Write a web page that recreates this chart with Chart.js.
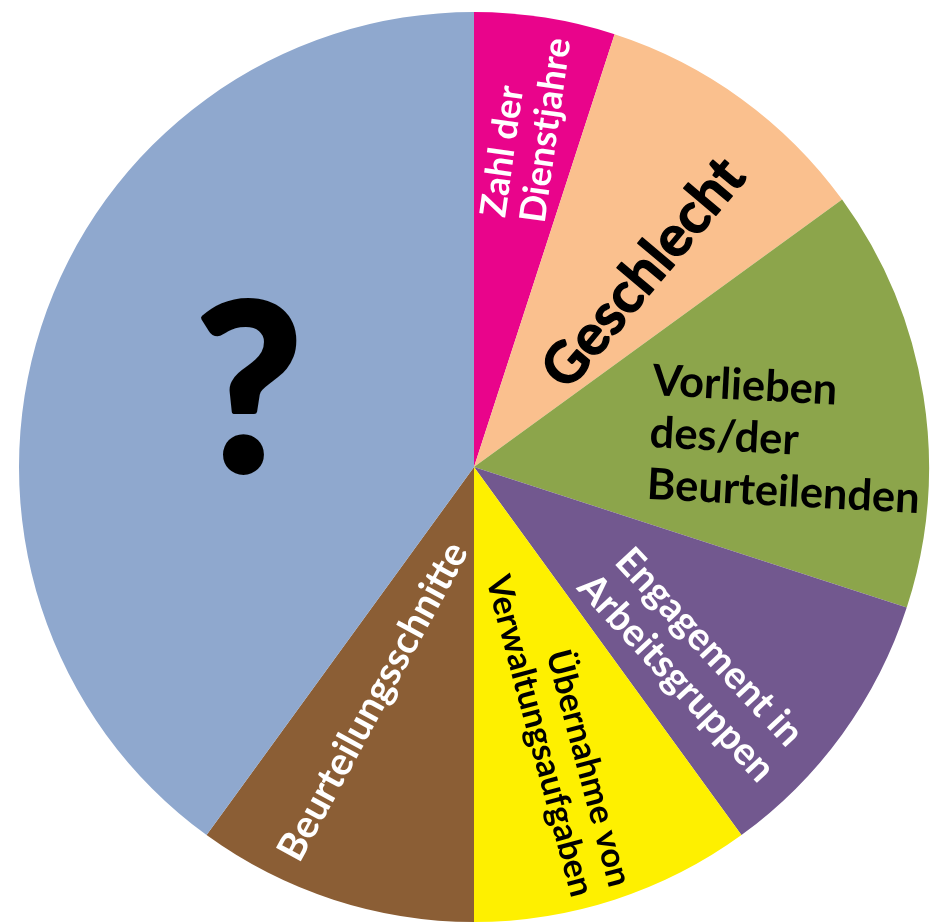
<!DOCTYPE html>
<html>
<head>
<meta charset="utf-8">
<script src="https://cdn.jsdelivr.net/npm/chart.js@4"></script>
<style>
  body { margin: 0; background: #fff; }
  .wrap { width: 932px; height: 922px; }
</style>
</head>
<body>
<div class="wrap"><canvas id="pie"></canvas></div>
<script>
// categories (each entry = lines of the slice label)
const categories = [
  ['Zahl der', 'Dienstjahre'],
  ['Geschlecht'],
  ['Vorlieben', 'des/der', 'Beurteilenden'],
  ['Engagement in', 'Arbeitsgruppen'],
  ['Übernahme von', 'Verwaltungsaufgaben'],
  ['Beurteilungsschnitte'],
  ['?']
];
const shares = [5, 10, 15, 10, 10, 10, 40];
const sliceColors = ['#E9048B', '#FAC08E', '#8CA54B', '#72588F', '#FEF000', '#8B5E35', '#8FA8CE'];

// where and how each label sits (angle clockwise from 12 o'clock, radius fraction)
const textLayout = [
  { ang: 8.5,   r: 0.755, rot: -82,  w: 186, lh: 40, color: '#fff', align: 'left' },
  { ang: 40.6,  r: 0.566, rot: -50,  w: 280, lh: 0,  color: '#000', align: 'center', heavy: true },
  { ang: 84.7,  r: 0.689, rot: 3,    w: 273, lh: 52, color: '#000', align: 'left' },
  { ang: 131.5, r: 0.645, rot: 47,   w: 268, lh: 45, color: '#fff', align: 'center' },
  { ang: 162,   r: 0.609, rot: 75,   w: 331, lh: 39, color: '#000', align: 'right' },
  { ang: 203.6, r: 0.561, rot: -61.5, w: 356, lh: 0, color: '#fff', align: 'center' },
  { ang: 289.7, r: 0.525, rot: 0,    size: 232, lh: 0, color: '#000', align: 'center', heavy: true }
];

const fontFamily = "Lato, 'Open Sans', sans-serif";

const sliceText = {
  id: 'sliceText',
  afterDatasetsDraw(chart) {
    const ctx = chart.ctx;
    const arcs = chart.getDatasetMeta(0).data;
    textLayout.forEach((t, i) => {
      const arc = arcs[i];
      const lines = categories[i];
      const a = (t.ang - 90) * Math.PI / 180;
      const cx = arc.x + Math.cos(a) * arc.outerRadius * t.r;
      const cy = arc.y + Math.sin(a) * arc.outerRadius * t.r;

      let size = t.size;
      if (!size) {
        ctx.font = 'bold 40px ' + fontFamily;
        const maxW = Math.max(...lines.map(l => ctx.measureText(l).width));
        size = 40 * t.w / maxW;
      }
      ctx.save();
      ctx.font = 'bold ' + size + 'px ' + fontFamily;
      ctx.fillStyle = t.color;
      ctx.strokeStyle = t.color;
      ctx.lineWidth = size * 0.025;
      ctx.lineJoin = 'round';
      ctx.textAlign = 'left';
      ctx.textBaseline = 'alphabetic';
      ctx.translate(cx, cy);
      ctx.rotate(t.rot * Math.PI / 180);
      const widths = lines.map(l => ctx.measureText(l).width);
      const W = Math.max(...widths);
      let half;
      if (lines[0] === '?') {
        const m = ctx.measureText('?');
        half = (m.actualBoundingBoxAscent - m.actualBoundingBoxDescent) / 2;
      } else {
        half = ctx.measureText('H').actualBoundingBoxAscent / 2;
      }
      lines.forEach((l, k) => {
        const dy = (k - (lines.length - 1) / 2) * t.lh + half;
        let dx = -widths[k] / 2;
        if (t.align === 'left') dx = -W / 2;
        if (t.align === 'right') dx = W / 2 - widths[k];
        ctx.fillText(l, dx, dy);
        if (t.heavy) ctx.strokeText(l, dx, dy);
      });
      ctx.restore();
    });
  }
};

new Chart(document.getElementById('pie'), {
  type: 'pie',
  data: {
    labels: categories,
    datasets: [{
      data: shares,
      backgroundColor: sliceColors,
      borderWidth: 0
    }]
  },
  options: {
    responsive: true,
    maintainAspectRatio: false,
    animation: false,
    layout: { padding: { left: 19, right: 3, top: 12, bottom: 0 } },
    plugins: {
      legend: { display: false },
      tooltip: { enabled: false }
    }
  },
  plugins: [sliceText]
});
</script>
</body>
</html>
